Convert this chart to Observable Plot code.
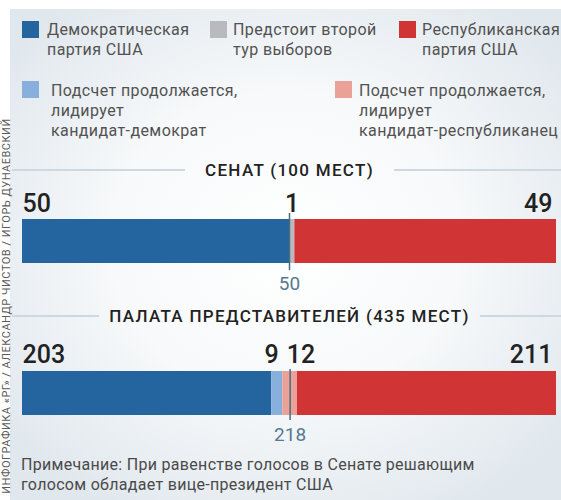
<!DOCTYPE html>
<html><head><meta charset="utf-8">
<script src="https://cdn.jsdelivr.net/npm/d3@7"></script>
<script src="https://cdn.jsdelivr.net/npm/@observablehq/plot@0.6"></script>
<style>
body{margin:0;background:#fff;font-family:Roboto,"Noto Sans",sans-serif;}
#root{position:relative;width:561px;height:500px;overflow:hidden;background:#fff;}
#panel{position:absolute;left:10px;top:9px;right:0;bottom:0;
  background:radial-gradient(ellipse 64% 62% at 50% 48%, #ffffff 0%, #f7f9fa 50%, #eaeff3 78%, #e1e8ed 100%);}
.credit{position:absolute;left:5.5px;top:306px;transform:translate(-50%,-50%) rotate(-90deg);white-space:nowrap;font-size:11px;line-height:11px;color:#5a5a5a;letter-spacing:0.5px;}
.sw{position:absolute;width:17px;height:17px;}
.lt{position:absolute;font-size:16px;line-height:20px;color:#525252;white-space:pre;letter-spacing:0.4px;}
.title{position:absolute;left:12px;width:555px;height:20px;display:flex;align-items:center;}
.title .ln{flex:1;height:2px;background:#cdd8e0;}
.title span{font-size:17px;font-weight:500;color:#222;letter-spacing:1.3px;white-space:nowrap;}
.chart{position:absolute;left:0;}
.note{position:absolute;left:21px;top:455px;font-size:16px;line-height:20px;color:#4a4a4a;white-space:pre;letter-spacing:0.3px;}
</style></head>
<body>
<div id="root">
  <div id="panel"></div>
  <div class="credit">ИНФОГРАФИКА «РГ» / АЛЕКСАНДР ЧИСТОВ / ИГОРЬ ДУНАЕВСКИЙ</div>
  <div id="legend"></div>
  <div class="title" style="top:160px"><div class="ln"></div><span id="t1" style="padding:0 20px"></span><div class="ln"></div></div>
  <div class="chart" id="senate" style="top:180px"></div>
  <div class="title" style="top:306px"><div class="ln"></div><span id="t2" style="padding:0 10px"></span><div class="ln"></div></div>
  <div class="chart" id="house" style="top:330px"></div>
  <div class="note" id="note"></div>
</div>
<script>
// ---- data ----
const statuses = ["dem", "runoff", "rep", "demLead", "repLead"];
const statusLabels = [
  "Демократическая\nпартия США",
  "Предстоит второй\nтур выборов",
  "Республиканская\nпартия США",
  "Подсчет продолжается,\nлидирует\nкандидат-демократ",
  "Подсчет продолжается,\nлидирует\nкандидат-республиканец"
];
const senateStatuses = ["dem", "runoff", "rep"];
const senateSeats = [50, 1, 49];
const houseStatuses = ["dem", "demLead", "repLead", "rep"];
const houseSeats = [203, 9, 12, 211];
const chamberTitles = ["СЕНАТ (100 МЕСТ)", "ПАЛАТА ПРЕДСТАВИТЕЛЕЙ (435 МЕСТ)"];
const majorityMarks = [50, 218];
const noteText = "Примечание: При равенстве голосов в Сенате решающим\nголосом обладает вице-президент США";

// ---- styles ----
const statusColors = ["#24649f", "#b8babd", "#d13435", "#89b0dc", "#e9a198"];
const color = {domain: statuses, range: statusColors};

// ---- legend ----
const legendPos = [
  {sx: 22, sy: 21, tx: 47, ty: 20},
  {sx: 210, sy: 21, tx: 233, ty: 20},
  {sx: 399, sy: 21, tx: 422, ty: 20},
  {sx: 22, sy: 81, tx: 51, ty: 81},
  {sx: 335, sy: 81, tx: 359, ty: 81}
];
const legend = document.getElementById("legend");
statuses.forEach((s, i) => {
  const p = legendPos[i];
  const sw = document.createElement("div");
  sw.className = "sw"; sw.style.left = p.sx + "px"; sw.style.top = p.sy + "px";
  sw.style.background = statusColors[i];
  legend.appendChild(sw);
  const t = document.createElement("div");
  t.className = "lt"; t.style.left = p.tx + "px"; t.style.top = p.ty + "px";
  t.textContent = statusLabels[i];
  legend.appendChild(t);
});
document.getElementById("t1").textContent = chamberTitles[0];
document.getElementById("t2").textContent = chamberTitles[1];
document.getElementById("note").textContent = noteText;

function segments(sts, vals) {
  let s = 0;
  return vals.map((v, i) => ({status: sts[i], seats: v, x1: s, x2: (s += v)}));
}

function chamber(sts, vals, majority, opts) {
  const segs = segments(sts, vals);
  const total = d3.sum(vals);
  const first = segs[0], last = segs[segs.length - 1];
  const middle = segs.slice(1, -1);
  const numStyle = {frameAnchor: "top", lineAnchor: "bottom", dy: opts.numDy, fontSize: 25, fontWeight: 500, fill: "#222", text: d => String(d.seats)};
  const marks = [
    Plot.barX(segs.map(d => ({status: d.status, seats: d.seats})), Plot.stackX({x: "seats", fill: "status"})),
    Plot.ruleX([majority], {x: d => d, stroke: "#4a6b80", strokeWidth: 1.5, insetTop: opts.ruleTop, insetBottom: opts.ruleBottom}),
    Plot.text([first], {...numStyle, x: "x1", textAnchor: "start"}),
    Plot.text([last], {...numStyle, x: "x2", textAnchor: "end", dx: -4})
  ];
  if (middle.length === 1) {
    marks.push(Plot.text(middle, {...numStyle, x: d => (d.x1 + d.x2) / 2, textAnchor: "middle"}));
  } else {
    marks.push(Plot.text([middle[0]], {...numStyle, x: "x2", textAnchor: "end", dx: -4}));
    marks.push(Plot.text([middle[1]], {...numStyle, x: "x1", textAnchor: "start", dx: 4}));
  }
  marks.push(Plot.text([majority], {x: d => d, text: d => String(d), frameAnchor: "bottom", lineAnchor: "top", dy: opts.labDy, fontSize: 19, fill: "#567a8f"}));
  return Plot.plot({
    width: 561, height: 120,
    marginLeft: 22, marginRight: 5, marginTop: opts.mt, marginBottom: opts.mb,
    x: {domain: [0, total], axis: null},
    color,
    style: {background: "transparent", overflow: "visible", fontFamily: "Roboto, 'Noto Sans', sans-serif"},
    marks
  });
}

document.getElementById("senate").appendChild(
  chamber(senateStatuses, senateSeats, majorityMarks[0], {mt: 39, mb: 37, numDy: -8, ruleTop: -6, ruleBottom: -7, labDy: 13})
);
document.getElementById("house").appendChild(
  chamber(houseStatuses, houseSeats, majorityMarks[1], {mt: 41, mb: 35, numDy: -9, ruleTop: -2, ruleBottom: -5, labDy: 12})
);
</script>
</body></html>
